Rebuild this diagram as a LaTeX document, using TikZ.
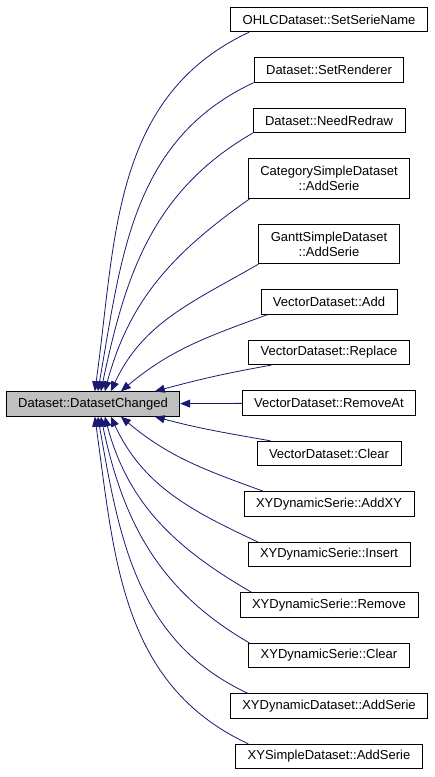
\documentclass[tikz,border=0pt]{standalone}
\usepackage{fontspec}
\setmainfont{Liberation Sans}
\usetikzlibrary{arrows.meta,positioning}
\definecolor{edgeblue}{HTML}{191970}
\definecolor{hilite}{HTML}{BFBFBF}

\begin{document}
\begin{tikzpicture}[x=1pt,y=1pt,node distance=25.2pt,
    every node/.style={font=\fontsize{13}{15}\selectfont},
    fn/.style={draw=black,line width=0.8pt,fill=white,align=center,inner xsep=12pt,inner ysep=2pt,minimum height=24.5pt},
    twoline/.style={minimum height=39.5pt},
    call/.style={draw=edgeblue,line width=0.8pt,-{Triangle[length=10pt,width=8pt]}}]
  \useasboundingbox (0,0) rectangle (435,777);
  % the function that is called
  \node[fn,fill=hilite] (dschanged) at (93,373) {Dataset::DatasetChanged};
  % its callers
  \node[fn] (ohlc) at (329,757.5) {OHLCDataset::SetSerieName};
  \node[fn] (setrend) [below=of ohlc] {Dataset::SetRenderer};
  \node[fn] (needredraw) [below=of setrend] {Dataset::NeedRedraw};
  \node[fn,twoline] (catadd) [below=of needredraw] {CategorySimpleDataset\\::AddSerie};
  \node[fn,twoline] (ganttadd) [below=of catadd] {GanttSimpleDataset\\::AddSerie};
  \node[fn] (vadd) [below=of ganttadd] {VectorDataset::Add};
  \node[fn] (vreplace) [below=of vadd] {VectorDataset::Replace};
  \node[fn] (vremoveat) [below=of vreplace] {VectorDataset::RemoveAt};
  \node[fn] (vclear) [below=of vremoveat] {VectorDataset::Clear};
  \node[fn] (xyaddxy) [below=of vclear] {XYDynamicSerie::AddXY};
  \node[fn] (xyinsert) [below=of xyaddxy] {XYDynamicSerie::Insert};
  \node[fn] (xyremove) [below=of xyinsert] {XYDynamicSerie::Remove};
  \node[fn] (xyclear) [below=of xyremove] {XYDynamicSerie::Clear};
  \node[fn] (xyddadd) [below=of xyclear] {XYDynamicDataset::AddSerie};
  \node[fn] (xysadd) [below=of xyddadd] {XYSimpleDataset::AddSerie};
  % calls from above
  \draw[call] ([xshift=19pt]ohlc.south west) to[out=205,in=82] ([xshift=89pt]dschanged.north west);
  \draw[call] (setrend.south west) to[out=205,in=80] ([xshift=92pt]dschanged.north west);
  \draw[call] (needredraw.south west) to[out=210,in=78] ([xshift=95pt]dschanged.north west);
  \draw[call] ([xshift=2pt]catadd.south west) to[out=215,in=75] ([xshift=99pt]dschanged.north west);
  \draw[call] (ganttadd.south west) to[out=210,in=65] ([xshift=105pt]dschanged.north west);
  \draw[call] ([xshift=7pt]vadd.south west) to[out=200,in=40] ([xshift=115pt]dschanged.north west);
  \draw[call] ([xshift=23pt]vreplace.south west) to[out=190,in=15] ([xshift=149pt]dschanged.north west);
  \draw[call] (vremoveat) -- (dschanged);
  % calls from below
  \draw[call] ([xshift=14pt]vclear.north west) to[out=170,in=-15] ([xshift=149pt]dschanged.south west);
  \draw[call] ([xshift=20pt]xyaddxy.north west) to[out=160,in=-40] ([xshift=115pt]dschanged.south west);
  \draw[call] ([xshift=10pt]xyinsert.north west) to[out=155,in=-65] ([xshift=105pt]dschanged.south west);
  \draw[call] ([xshift=12pt]xyremove.north west) to[out=150,in=-75] ([xshift=99pt]dschanged.south west);
  \draw[call] ([xshift=1pt]xyclear.north west) to[out=150,in=-78] ([xshift=95pt]dschanged.south west);
  \draw[call] ([xshift=18pt]xyddadd.north west) to[out=155,in=-80] ([xshift=92pt]dschanged.south west);
  \draw[call] ([xshift=13pt]xysadd.north west) to[out=155,in=-82] ([xshift=89pt]dschanged.south west);
\end{tikzpicture}
\end{document}
